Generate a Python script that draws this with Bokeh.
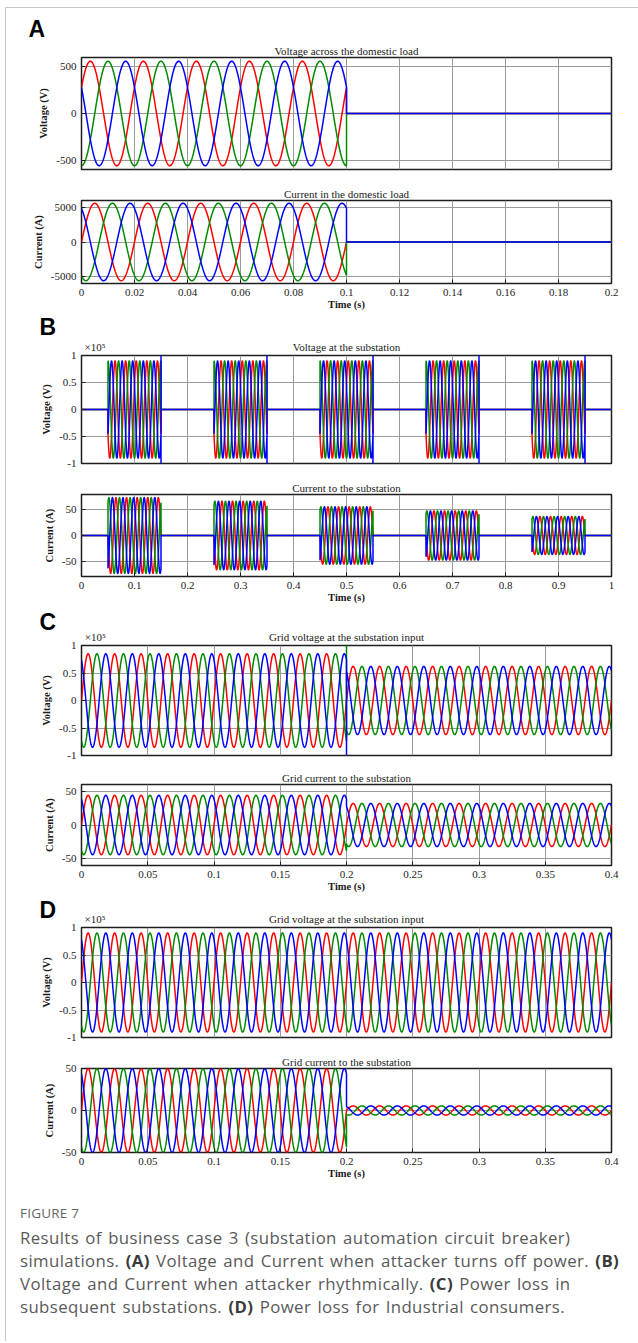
import numpy as np
from bokeh.plotting import figure
from bokeh.models import FixedTicker, Div, Range1d, Title, LinearAxis
from bokeh.layouts import column
from bokeh.embed import file_html
from bokeh.resources import INLINE

# ---------------- data ----------------
FREQ_HZ = 50.0
PHASE_COLORS = ["#ff0000", "#008a00", "#0000ff"]     # red, green, blue
PHASE_SHIFT_DEG = [0.0, -120.0, 120.0]

# (A) attacker turns off power at 0.1 s
A_T_END = 0.2
A_BREAKS = [0.0, 0.1]
A_V_AMPS = [560.0, 0.0]
A_V_PHASE = 30.0
A_I_AMPS = [5600.0, 0.0]
A_I_PHASE = 0.0

# (B) breaker operated rhythmically
B_T_END = 1.0
B_BREAKS = [0.0, 0.05, 0.15, 0.25, 0.35, 0.45, 0.55, 0.65, 0.75, 0.85, 0.95]
B_V_AMPS = [0.0, 0.9e5, 0.0, 0.9e5, 0.0, 0.9e5, 0.0, 0.9e5, 0.0, 0.9e5, 0.0]
B_V_PHASE = 30.0
B_I_AMPS = [0.0, 74.0, 0.0, 67.0, 0.0, 56.0, 0.0, 48.0, 0.0, 37.0, 0.0]
B_I_PHASE = 0.0
B_V_SPIKE_TIMES = [0.15, 0.35, 0.55, 0.75, 0.95]
B_V_SPIKE_VALUES = [-1.0e5, 1.0e5]          # blue phase transient at each opening

# (C) power loss in subsequent substations
C_T_END = 0.4
C_BREAKS = [0.0, 0.2]
C_V_AMPS = [0.85e5, 0.62e5]
C_I_AMPS = [44.0, 32.0]
C_PHASE = 0.0
C_V_SPIKE_TIME = 0.2
C_V_SPIKE_VALUES = [[], [1.0e5], [-1.0e5]]   # per phase (red, green, blue)

# (D) power loss for industrial consumers
D_T_END = 0.4
D_BREAKS = [0.0, 0.2]
D_V_AMPS = [0.9e5, 0.9e5]
D_I_AMPS = [50.0, 5.5]
D_PHASE = 0.0

# ticks
A_XTICKS = [0, 0.02, 0.04, 0.06, 0.08, 0.1, 0.12, 0.14, 0.16, 0.18, 0.2]
B_XTICKS = [0, 0.1, 0.2, 0.3, 0.4, 0.5, 0.6, 0.7, 0.8, 0.9, 1]
CD_XTICKS = [0, 0.05, 0.1, 0.15, 0.2, 0.25, 0.3, 0.35, 0.4]
A_V_YTICKS = [-500, 0, 500]
A_I_YTICKS = [-5000, 0, 5000]
V5_YTICKS = [-1e5, -0.5e5, 0, 0.5e5, 1e5]
V5_YLABELS = ["-1", "-0.5", "0", "0.5", "1"]
V5_EXPONENT = "×10⁵"
I50_YTICKS = [-50, 0, 50]

A_V_YLIM = [-600, 600]
A_I_YLIM = [-6000, 6000]
V5_YLIM = [-1e5, 1e5]
B_I_YLIM = [-80, 80]
C_I_YLIM = [-60, 60]
D_I_YLIM = [-50, 50]

TITLES = {
    "A1": "Voltage across the domestic load", "A2": "Current in the domestic load",
    "B1": "Voltage at the substation", "B2": "Current to the substation",
    "C1": "Grid voltage at the substation input", "C2": "Grid current to the substation",
    "D1": "Grid voltage at the substation input", "D2": "Grid current to the substation",
}

# ---------------- helpers ----------------
SERIF = "Liberation Serif"
PAGE_W = 638
LEFT = 6
TOP = 8
INK = "#1a1a1a"


def build_phase(breaks, amps, t_end, phase_deg, k, spikes=None):
    edges = list(breaks) + [t_end]
    w = 2 * np.pi * FREQ_HZ
    ph = np.radians(phase_deg + PHASE_SHIFT_DEG[k])
    xs, ys = [], []
    for i in range(len(breaks)):
        t0, t1 = edges[i], edges[i + 1]
        n = max(int(round((t1 - t0) / 2e-4)) + 1, 2)
        tt = np.linspace(t0, t1, n)
        yy = amps[i] * np.sin(w * tt + ph)
        if spikes:
            for ts, vals in spikes.items():
                if abs(ts - t0) < 1e-9 and i > 0:
                    xs.extend([t0] * len(vals))
                    ys.extend(vals)
        xs.extend(tt.tolist())
        ys.extend(yy.tolist())
    return xs, ys


def three_phase(breaks, amps, t_end, phase_deg, spikes_per_phase=None):
    out = []
    for k in range(3):
        sp = spikes_per_phase[k] if spikes_per_phase else None
        out.append(build_phase(breaks, amps, t_end, phase_deg, k, sp))
    return out


def style_axis(ax, size="11px"):
    ax.axis_line_color = None
    ax.major_tick_in = 4
    ax.major_tick_out = 0
    ax.major_tick_line_color = "#1e1e1e"
    ax.minor_tick_line_color = None
    ax.major_label_text_font = SERIF
    ax.major_label_text_font_size = size
    ax.major_label_text_color = "#222222"
    ax.major_label_standoff = 5
    ax.axis_label_text_font = SERIF
    ax.axis_label_text_font_size = "10.5px"
    ax.axis_label_text_font_style = "bold"
    ax.axis_label_text_color = INK


def panel(fig_top, fig_bot, fl, fr, ft, fb, xr, yr, xticks, yticks, ylabels,
          series, title, ylabel, show_x, letter=None, letter_y=None, exp=False):
    W = PAGE_W - LEFT
    p = figure(width=W, height=fig_bot - fig_top, output_backend="svg",
               toolbar_location=None, title_location=None,
               x_range=Range1d(*xr), y_range=Range1d(*yr),
               min_border_left=fl - LEFT, min_border_right=PAGE_W - fr,
               min_border_top=ft - fig_top, min_border_bottom=fig_bot - fb)
    p.outline_line_color = "#1e1e1e"
    p.outline_line_width = 1.5
    p.border_fill_color = "white"

    xt = FixedTicker(ticks=xticks)
    yt = FixedTicker(ticks=yticks)
    p.xaxis.ticker = xt
    p.yaxis.ticker = yt
    p.xgrid.ticker = xt
    p.ygrid.ticker = yt
    p.grid.grid_line_color = "#9a9a9a"
    p.grid.grid_line_width = 1
    p.xaxis.major_label_overrides = {v: f"{v:g}" for v in xticks}
    p.yaxis.major_label_overrides = dict(zip(yticks, ylabels))
    style_axis(p.xaxis[0])
    style_axis(p.yaxis[0])
    p.yaxis.axis_label = ylabel
    p.yaxis.axis_label_standoff = 4
    if show_x:
        p.xaxis.axis_label = "Time (s)"
        p.xaxis.axis_label_standoff = 0
    else:
        p.xaxis.visible = False

    # chart title row (and the x10^5 exponent in the same row)
    if exp:
        x0, x1 = xr
        t_exp = x0 + 14.0 / (fr - fl) * (x1 - x0)
        t_mid = (x0 + x1) / 2.0
        top_ax = LinearAxis(ticker=FixedTicker(ticks=[t_exp, t_mid]),
                            major_label_overrides={t_exp: V5_EXPONENT, t_mid: title})
        style_axis(top_ax)
        top_ax.major_tick_in = 0
        top_ax.major_tick_line_color = None
        top_ax.major_label_standoff = 3
        top_ax.major_label_text_color = INK
        p.add_layout(top_ax, "above")
    else:
        p.add_layout(Title(text=title, align="center", text_font=SERIF,
                           text_font_size="11px", text_font_style="normal",
                           text_color=INK, standoff=2), "above")

    # panel letter, stacked above the title row
    if letter is not None:
        s = 2.0 * (ft - 29 - letter_y)
        s = max(min(s, 0.0), -26.0)
        p.add_layout(Title(text=letter, align="left", offset=28 - fl,
                           text_font="Liberation Sans", text_font_size="23px",
                           text_font_style="bold", text_color="#000000",
                           standoff=s), "above")

    for k in range(3):
        xs, ys = series[k]
        p.line(xs, ys, line_color=PHASE_COLORS[k], line_width=1.5)
    return p


# ---------------- series ----------------
a_v = three_phase(A_BREAKS, A_V_AMPS, A_T_END, A_V_PHASE)
a_i = three_phase(A_BREAKS, A_I_AMPS, A_T_END, A_I_PHASE)
b_spikes = [None, None, {t: B_V_SPIKE_VALUES for t in B_V_SPIKE_TIMES}]
b_v = three_phase(B_BREAKS, B_V_AMPS, B_T_END, B_V_PHASE, b_spikes)
b_i = three_phase(B_BREAKS, B_I_AMPS, B_T_END, B_I_PHASE)
c_spikes = [{C_V_SPIKE_TIME: v} for v in C_V_SPIKE_VALUES]
c_v = three_phase(C_BREAKS, C_V_AMPS, C_T_END, C_PHASE, c_spikes)
c_i = three_phase(C_BREAKS, C_I_AMPS, C_T_END, C_PHASE)
d_v = three_phase(D_BREAKS, D_V_AMPS, D_T_END, D_PHASE)
d_i = three_phase(D_BREAKS, D_I_AMPS, D_T_END, D_PHASE)

fmt = lambda ticks: [f"{v:g}" for v in ticks]

figs = [
    panel(8, 182, 81, 615, 57, 169, (0, 0.2), A_V_YLIM, A_XTICKS, A_V_YTICKS, fmt(A_V_YTICKS),
          a_v, TITLES["A1"], "Voltage (V)", False, letter="A", letter_y=28),
    panel(182, 313, 81, 615, 200, 283, (0, 0.2), A_I_YLIM, A_XTICKS, A_I_YTICKS, fmt(A_I_YTICKS),
          a_i, TITLES["A2"], "Current (A)", True),
    panel(313, 474, 70, 615, 353, 463, (0, 1), V5_YLIM, B_XTICKS, V5_YTICKS, V5_YLABELS,
          b_v, TITLES["B1"], "Voltage (V)", False, letter="B", letter_y=326, exp=True),
    panel(474, 606, 70, 615, 494, 576, (0, 1), B_I_YLIM, B_XTICKS, I50_YTICKS, fmt(I50_YTICKS),
          b_i, TITLES["B2"], "Current (A)", True),
    panel(606, 765, 70, 611, 645, 755, (0, 0.4), V5_YLIM, CD_XTICKS, V5_YTICKS, V5_YLABELS,
          c_v, TITLES["C1"], "Voltage (V)", False, letter="C", letter_y=623, exp=True),
    panel(765, 895, 70, 611, 784, 865, (0, 0.4), C_I_YLIM, CD_XTICKS, I50_YTICKS, fmt(I50_YTICKS),
          c_i, TITLES["C2"], "Current (A)", True),
    panel(895, 1046, 70, 615, 927, 1037, (0, 0.4), V5_YLIM, CD_XTICKS, V5_YTICKS, V5_YLABELS,
          d_v, TITLES["D1"], "Voltage (V)", False, letter="D", letter_y=911, exp=True),
    panel(1046, 1185, 70, 615, 1068, 1152, (0, 0.4), D_I_YLIM, CD_XTICKS, I50_YTICKS, fmt(I50_YTICKS),
          d_i, TITLES["D2"], "Current (A)", True),
]

B = "font-weight:700;color:#3a3a3a"
caption_html = (
    "<div style=\"font-family:'Open Sans';color:#666;font-size:13.5px;line-height:16px;"
    "margin:20px 0 0 14px;letter-spacing:0.2px\">FIGURE 7</div>"
    "<div style=\"font-family:'Open Sans';color:#595959;font-size:16.8px;line-height:23px;"
    "letter-spacing:0.4px;word-spacing:1.5px;"
    "margin:5px 0 0 14px;white-space:nowrap\">"
    "Results of business case 3 (substation automation circuit breaker)<br>"
    f"simulations. <span style='{B}'>(A)</span> Voltage and Current when attacker turns off power. "
    f"<span style='{B}'>(B)</span><br>"
    f"Voltage and Current when attacker rhythmically. <span style='{B}'>(C)</span> Power loss in<br>"
    f"subsequent substations. <span style='{B}'>(D)</span> Power loss for Industrial consumers."
    "</div>"
)
caption = Div(text=caption_html, width=PAGE_W - LEFT, height=1343 - 1185 - 2, margin=0)

layout = column(*figs, caption, margin=(TOP - 1, 0, 0, LEFT - 1),
                styles={"border-top": "1px solid #c8c8c8", "border-left": "1px solid #c8c8c8"})

open("out.html", "w").write(file_html(layout, INLINE))
